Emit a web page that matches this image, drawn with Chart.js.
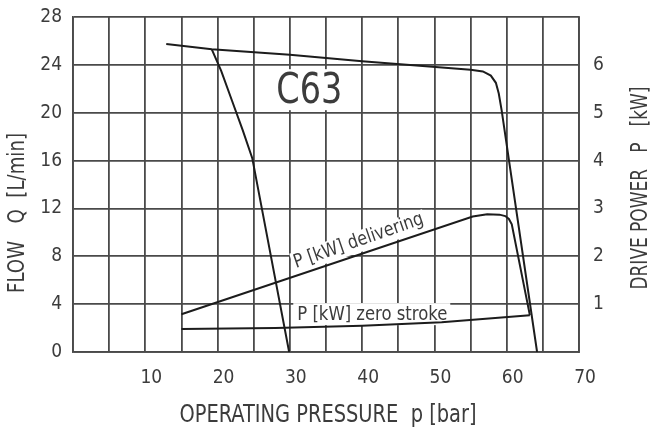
<!DOCTYPE html>
<html>
<head>
<meta charset="utf-8">
<script src="https://cdn.jsdelivr.net/npm/chart.js@4.4.1/dist/chart.umd.min.js"></script>
<style>
  html, body { margin: 0; padding: 0; background: #fff; }
  canvas { display: block; }
</style>
</head>
<body>
<canvas id="c" width="656" height="434"></canvas>
<script>
// Pump C63 characteristic: flow (left axis) and drive power (right axis) vs operating pressure

// Flow, pump at full displacement (pressure bar / flow L/min)
const pressureFlowMain = [12.9, 19.2, 30, 40, 55, 56.7, 57.8, 58.5, 58.9, 59.3, 64.2];
const flowMain         = [25.75, 25.3, 24.85, 24.3, 23.6, 23.45, 23.1, 22.5, 21.6, 20.2, 0];

// Flow, reduced pressure setting
const pressureFlowLow = [19.2, 20.5, 22, 23.5, 24.8, 29.9];
const flowLow         = [25.3, 23.5, 21, 18.5, 16.2, 0];

// Drive power while delivering (kW)
const pressureDelivering = [15, 55.3, 57.3, 59.0, 59.8, 60.3, 60.7, 63.2];
const powerDelivering    = [0.79, 2.83, 2.88, 2.87, 2.84, 2.78, 2.67, 0.77];

// Drive power at zero stroke (kW)
const pressureZeroStroke = [15, 28, 40, 51, 63.2];
const powerZeroStroke    = [0.48, 0.5, 0.55, 0.62, 0.77];

// Axis ranges and labels
const pressureTicks = [10, 20, 30, 40, 50, 60, 70];
const flowTicks = [0, 4, 8, 12, 16, 20, 24, 28];
const powerTicks = [1, 2, 3, 4, 5, 6];

const FONT = "'Liberation Sans Narrow', 'Arial Narrow', 'DejaVu Sans Condensed', 'Roboto Condensed', sans-serif";
const GRID = '#4a4a4a';
const INK = '#1c1c1c';
const TEXT = '#3c3c3c';

const toPoints = (xs, ys) => xs.map((x, i) => ({ x, y: ys[i] }));

const lineStyle = {
  showLine: true,
  borderColor: INK,
  borderWidth: 2,
  pointRadius: 0,
  fill: false,
  tension: 0
};

// Fixed scale sizes so the plot frame sits where it should
const fixSize = (w, h) => s => {
  if (w !== null) s.width = w;
  if (h !== null) s.height = h;
  s.paddingTop = 0; s.paddingBottom = 0; s.paddingLeft = 0; s.paddingRight = 0;
};

// Draws a string at (x, y) with given rotation, squeezed horizontally to a target width
function drawText(ctx, str, x, y, size, rot, targetWidth) {
  ctx.save();
  ctx.translate(x, y);
  ctx.rotate(rot);
  ctx.font = size + 'px ' + FONT;
  const w = ctx.measureText(str).width;
  const sx = targetWidth ? targetWidth / w : 1;
  ctx.scale(sx, 1);
  ctx.textAlign = 'center';
  ctx.textBaseline = 'middle';
  ctx.fillStyle = TEXT;
  ctx.fillText(str, 0, 0);
  ctx.restore();
}

const annotations = {
  id: 'annotations',
  beforeDatasetsDraw(chart) {
    const { ctx, scales } = chart;
    const x = scales.x, y = scales.y, y2 = scales.y2;

    // model name in a white box
    const cx = x.getPixelForValue(32.7), cy = y.getPixelForValue(21.8);
    ctx.save();
    ctx.fillStyle = '#fff';
    ctx.fillRect(cx - 42, cy - 22, 84, 41);
    ctx.restore();
    drawText(ctx, 'C63', cx, cy + 1, 42, 0, 66);

    // label along the delivering power line
    const ax = x.getPixelForValue(pressureDelivering[0]);
    const ay = y2.getPixelForValue(powerDelivering[0]);
    const bx = x.getPixelForValue(pressureDelivering[1]);
    const by = y2.getPixelForValue(powerDelivering[1]);
    const ang = Math.atan2(by - ay, bx - ax);
    const px = x.getPixelForValue(40.1);
    const py = ay + (by - ay) * (px - ax) / (bx - ax);
    const off = 13;
    const lx = px + Math.sin(ang) * off, ly = py - Math.cos(ang) * off;
    ctx.save();
    ctx.translate(lx, ly);
    ctx.rotate(ang);
    ctx.fillStyle = '#fff';
    ctx.fillRect(-70, -10, 140, 21);
    ctx.restore();
    drawText(ctx, 'P [kW] delivering', lx, ly, 19, ang - 0.01, 136);

    // label above the zero stroke line
    const zx = x.getPixelForValue(41.4), zy = y2.getPixelForValue(0.77);
    ctx.save();
    ctx.fillStyle = '#fff';
    ctx.fillRect(zx - 79, zy - 12, 157, 22);
    ctx.restore();
    drawText(ctx, 'P [kW] zero stroke', zx, zy, 19, 0, 150);
  },
  afterDraw(chart) {
    const { ctx } = chart;
    drawText(ctx, 'OPERATING PRESSURE  p [bar]', 328, 416, 24, 0, 297);
    drawText(ctx, 'FLOW   Q  [L/min]', 18, 213, 23, -Math.PI / 2, 160);
    drawText(ctx, 'DRIVE POWER   P   [kW]', 641, 188, 23, -Math.PI / 2, 203);
  }
};

new Chart(document.getElementById('c'), {
  type: 'scatter',
  data: {
    datasets: [
      { ...lineStyle, data: toPoints(pressureFlowMain, flowMain), yAxisID: 'y' },
      { ...lineStyle, data: toPoints(pressureFlowLow, flowLow), yAxisID: 'y' },
      { ...lineStyle, data: toPoints(pressureDelivering, powerDelivering), yAxisID: 'y2' },
      { ...lineStyle, data: toPoints(pressureZeroStroke, powerZeroStroke), yAxisID: 'y2' }
    ]
  },
  options: {
    responsive: false,
    animation: false,
    devicePixelRatio: 1,
    layout: { padding: { top: 17, left: 0, right: 0, bottom: 0 } },
    plugins: { legend: { display: false }, tooltip: { enabled: false } },
    scales: {
      x: {
        type: 'linear',
        min: 0, max: 70,
        grid: { color: GRID, lineWidth: 1.8, drawTicks: false },
        border: { color: GRID, width: 1.8 },
        ticks: {
          stepSize: 5,
          autoSkip: false,
          maxRotation: 0,
          padding: 15,
          labelOffset: 6,
          color: TEXT,
          font: { family: FONT, size: 19 },
          callback: v => pressureTicks.includes(v) ? String(v) : ''
        },
        afterFit: fixSize(null, 82)
      },
      y: {
        min: 0, max: 28,
        grid: { color: GRID, lineWidth: 1.8, drawTicks: false },
        border: { color: GRID, width: 1.8 },
        ticks: {
          stepSize: 4,
          padding: 11,
          color: TEXT,
          font: { family: FONT, size: 19 },
          callback: v => flowTicks.includes(v) ? String(v) : ''
        },
        afterFit: fixSize(73, null)
      },
      y2: {
        position: 'right',
        min: 0, max: 7,
        grid: { drawOnChartArea: false, drawTicks: false },
        border: { color: GRID, width: 1.8 },
        ticks: {
          stepSize: 1,
          padding: 14,
          color: TEXT,
          font: { family: FONT, size: 19 },
          callback: v => powerTicks.includes(v) ? String(v) : ''
        },
        afterFit: fixSize(77, null)
      }
    }
  },
  plugins: [annotations]
});
</script>
</body>
</html>
